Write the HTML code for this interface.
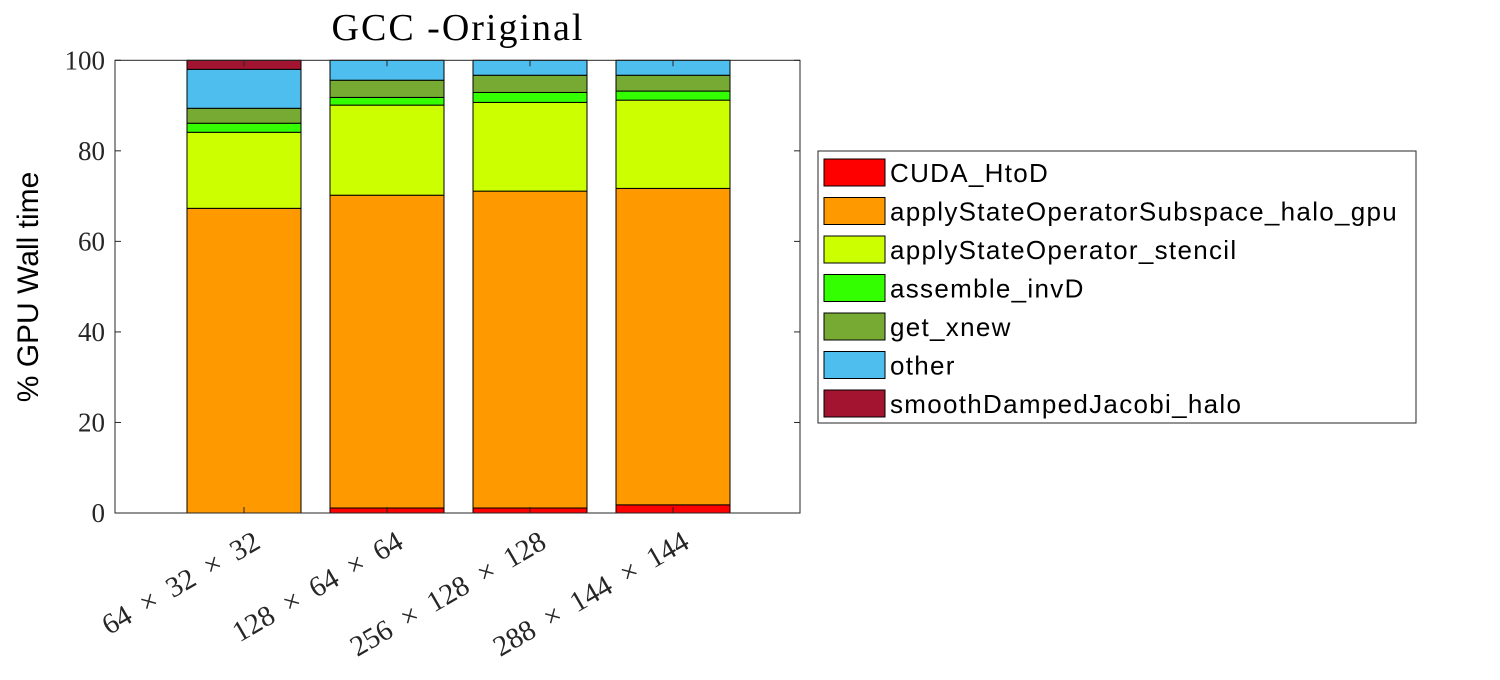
<!DOCTYPE html>
<html><head><meta charset="utf-8"><style>
body{margin:0;background:#fff}
svg text{font-family:"Liberation Serif",serif}
</style></head><body>
<svg id="c" width="1500" height="675">
<text x="458" y="40" font-size="38" letter-spacing="2" text-anchor="middle">GCC -Original</text>
<text transform="translate(38,287) rotate(-90)" font-size="30" text-anchor="middle" style="font-family:'Liberation Sans',sans-serif">% GPU Wall time</text>
<g id="bars"></g>
<rect x="115" y="60.3" width="685" height="452.7" fill="none" stroke="#262626" stroke-width="1"/>
<g id="axes"></g>
<g id="legend"></g>
</svg>
<script>
const categories=["64 \u00d7 32 \u00d7 32","128 \u00d7 64 \u00d7 64","256 \u00d7 128 \u00d7 128","288 \u00d7 144 \u00d7 144"];
const seriesNames=["CUDA_HtoD","applyStateOperatorSubspace_halo_gpu","applyStateOperator_stencil","assemble_invD","get_xnew","other","smoothDampedJacobi_halo"];
const seriesColors=["#ff0000","#ff9900","#ccff00","#33ff00","#77aa33","#4dbeee","#a2142f"];
const sHtoD=[0,1.1,1.1,1.8];
const sApply=[67.3,69.1,70.0,69.9];
const sStencil=[16.8,19.9,19.6,19.5];
const sInvD=[2.0,1.7,2.2,2.0];
const sXnew=[3.3,3.8,3.8,3.5];
const sOther=[8.6,4.4,3.3,3.3];
const sSmooth=[2.0,0,0,0];
const series=[sHtoD,sApply,sStencil,sInvD,sXnew,sOther,sSmooth];
const yTicks=[0,20,40,60,80,100];
const NS="http://www.w3.org/2000/svg";
const y0=513,yTop=60.3,xL=115,xR=800;
const yScale=v=>y0-(v/100)*(y0-yTop);
const xCenter=i=>244+i*143;
const bw=114;
function mk(t,a,p){const e=document.createElementNS(NS,t);for(const k in a)e.setAttribute(k,a[k]);p.appendChild(e);return e;}
const bars=document.getElementById('bars');
categories.forEach((c,i)=>{
  let cum=0;
  series.forEach((s,j)=>{
    const v=s[i]; if(v<=0){return;}
    const r=mk('rect',{x:xCenter(i)-bw/2,y:yScale(cum+v),width:bw,height:yScale(cum)-yScale(cum+v),fill:seriesColors[j],stroke:'#000','stroke-width':1},bars);
    
    
    cum+=v;
  });
});
const ax=document.getElementById('axes');
yTicks.forEach(t=>{
  const y=yScale(t);
  mk('line',{x1:xL,x2:xL+6,y1:y,y2:y,stroke:'#262626'},ax);
  mk('line',{x1:xR,x2:xR-6,y1:y,y2:y,stroke:'#262626'},ax);
  const tx=mk('text',{x:xL-10,y:y+9,'font-size':27,'text-anchor':'end',fill:'#262626'},ax);
  tx.textContent=t;
  
  
});
categories.forEach((c,i)=>{
  const x=xCenter(i);
  mk('line',{x1:x,x2:x,y1:y0,y2:y0-6,stroke:'#262626'},ax);
  mk('line',{x1:x,x2:x,y1:yTop,y2:yTop+6,stroke:'#262626'},ax);
  const tx=mk('text',{transform:`translate(${x+18},${y0+34}) rotate(-30)`,'font-size':29,'word-spacing':7,'text-anchor':'end',fill:'#262626'},ax);
  tx.textContent=c;
  
  
});
const lg=document.getElementById('legend');
const box=mk('rect',{x:818,y:151,width:598,height:272,fill:'#fff',stroke:'#262626'},lg);


seriesNames.forEach((n,j)=>{
  const y=159+j*38.5;
  const sw=mk('rect',{x:824,y:y,width:61,height:27,fill:seriesColors[j],stroke:'#000'},lg);
  
  
  const t=mk('text',{x:890,y:y+23,'font-size':26,'letter-spacing':1.3,style:"font-family:'Liberation Sans',sans-serif"},lg);
  t.textContent=n;
  
  
});
</script>
</body></html>
